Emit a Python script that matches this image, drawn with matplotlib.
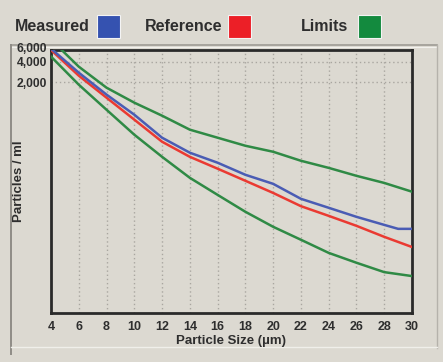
import matplotlib
matplotlib.use("Agg")
import matplotlib.pyplot as plt
import matplotlib.transforms as mtransforms
from matplotlib.patches import Rectangle
from matplotlib.lines import Line2D

# ---- data ----
sizes = [4, 6, 8, 10, 12, 14, 16, 18, 20, 22, 24, 26, 28, 29, 30]
measured = [6290, 2780, 1320, 668, 306, 184, 131, 87, 64, 38.5, 28.4, 20.9, 15.9, 13.9, 13.9]
ref_sizes = [4, 6, 8, 10, 12, 14, 16, 18, 20, 22, 24, 26, 28, 30]
reference = [6000, 2510, 1190, 565, 267, 160, 107, 71, 47, 30, 21.6, 15.4, 10.6, 7.5]
limit_upper = [8540, 3410, 1670, 1005, 646, 402, 306, 233, 190, 140, 110, 84, 66, 49]
limit_lower = [4800, 1850, 790, 339, 160, 78.5, 44, 24.8, 14.9, 9.6, 6.15, 4.4, 3.2, 2.8]

x_ticks = [4, 6, 8, 10, 12, 14, 16, 18, 20, 22, 24, 26, 28, 30]
y_ticks = [6000, 4000, 2000]
y_tick_labels = ["6,000", "4,000", "2,000"]
legend_labels = ["Measured", "Reference", "Limits"]

BG = "#dcd9d1"
TXT = "#2e2e2e"
BLUE = "#4a5cb4"
RED = "#ea3a32"
GREEN = "#2f8a45"
LEG_BLUE = "#3552b0"
LEG_RED = "#ec1f27"
LEG_GREEN = "#138a3e"
FONT = "Liberation Sans"

W, H = 443, 362
fig = plt.figure(figsize=(W / 100, H / 100), dpi=100, facecolor=BG)

def fx(px):
    return px / W

def fy(py):
    return 1 - py / H

# panel frame (drawn beneath everything else)
frame = [([11, 437], [45, 45], "#9e9b94", 1.2),
         ([11, 437], [46.5, 46.5], "#f2f1ed", 0.8),
         ([11, 11], [45, 354], "#8f8c86", 1.4),
         ([437, 437], [45, 348], "#b5b2ab", 1.0),
         ([11, 437], [347, 347], "#f0efea", 1.0)]
for xs, ys, col, lw in frame:
    fig.add_artist(Line2D([fx(v) for v in xs], [fy(v) for v in ys], color=col, lw=lw,
                          zorder=-5))

# legend header
leg_items = [(legend_labels[0], 15, 97, LEG_BLUE),
             (legend_labels[1], 145, 228, LEG_RED),
             (legend_labels[2], 301, 358, LEG_GREEN)]
for label, tx, sx, col in leg_items:
    fig.text(fx(tx), fy(26.5), label, fontsize=11.5, fontweight="bold", color=TXT,
             family=FONT, ha="left", va="center")
    fig.add_artist(Rectangle((fx(sx), fy(38)), 23 / W, 23 / H, transform=fig.transFigure,
                             facecolor=col, edgecolor="#f4f4f4", lw=0.8))

ax = fig.add_axes([fx(51), fy(313), (412 - 51) / W, (313 - 50) / H])
ax.set_facecolor(BG)
ax.set_yscale("log")
ax.set_xlim(4, 30)
ax.set_ylim(0.8, 6000)

for xv in x_ticks[1:-1]:
    ax.axvline(xv, color="#a9a6a0", lw=1.0, ls=(0, (1, 2)), zorder=1)
for yv in y_ticks[1:]:
    ax.axhline(yv, color="#a9a6a0", lw=1.0, ls=(0, (1, 2)), zorder=1)

LW = 1.8
ax.plot(ref_sizes, limit_upper, color=GREEN, lw=LW, zorder=3, solid_joinstyle="round")
ax.plot(ref_sizes, limit_lower, color=GREEN, lw=LW, zorder=3, solid_joinstyle="round")
ax.plot(ref_sizes, reference, color=RED, lw=LW, zorder=4, solid_joinstyle="round")
ax.plot(sizes, measured, color=BLUE, lw=LW, zorder=5, solid_joinstyle="round")

ax.set_xticks(x_ticks)
ax.set_xticklabels([str(v) for v in x_ticks])
ax.set_yticks(y_ticks)
ax.set_yticklabels(y_tick_labels)
ax.minorticks_off()
ax.tick_params(axis="x", length=0, pad=6, labelcolor=TXT)
ax.tick_params(axis="y", length=0, pad=3, labelcolor=TXT)
for lab in ax.get_xticklabels():
    lab.set_fontsize(9)
    lab.set_fontweight("bold")
    lab.set_family(FONT)
for lab in ax.get_yticklabels():
    lab.set_fontsize(8.7)
    lab.set_fontweight("bold")
    lab.set_family(FONT)
# nudge the top label up a little so it sits above the 4,000 label
top_lab = ax.get_yticklabels()[0]
top_lab.set_transform(top_lab.get_transform() +
                      mtransforms.ScaledTranslation(0, 2 / 100, fig.dpi_scale_trans))

ax.set_xlabel("Particle Size (µm)", fontsize=9.5, fontweight="bold", color=TXT,
              family=FONT, labelpad=1)
ax.set_ylabel("Particles / ml", fontsize=9.5, fontweight="bold", color=TXT,
              family=FONT)
ax.yaxis.set_label_coords((25 - 51) / (412 - 51), 0.5)

for sp in ax.spines.values():
    sp.set_color("#2a2a2a")
    sp.set_linewidth(2.0)

fig.savefig("out.png", dpi=100, facecolor=BG)
